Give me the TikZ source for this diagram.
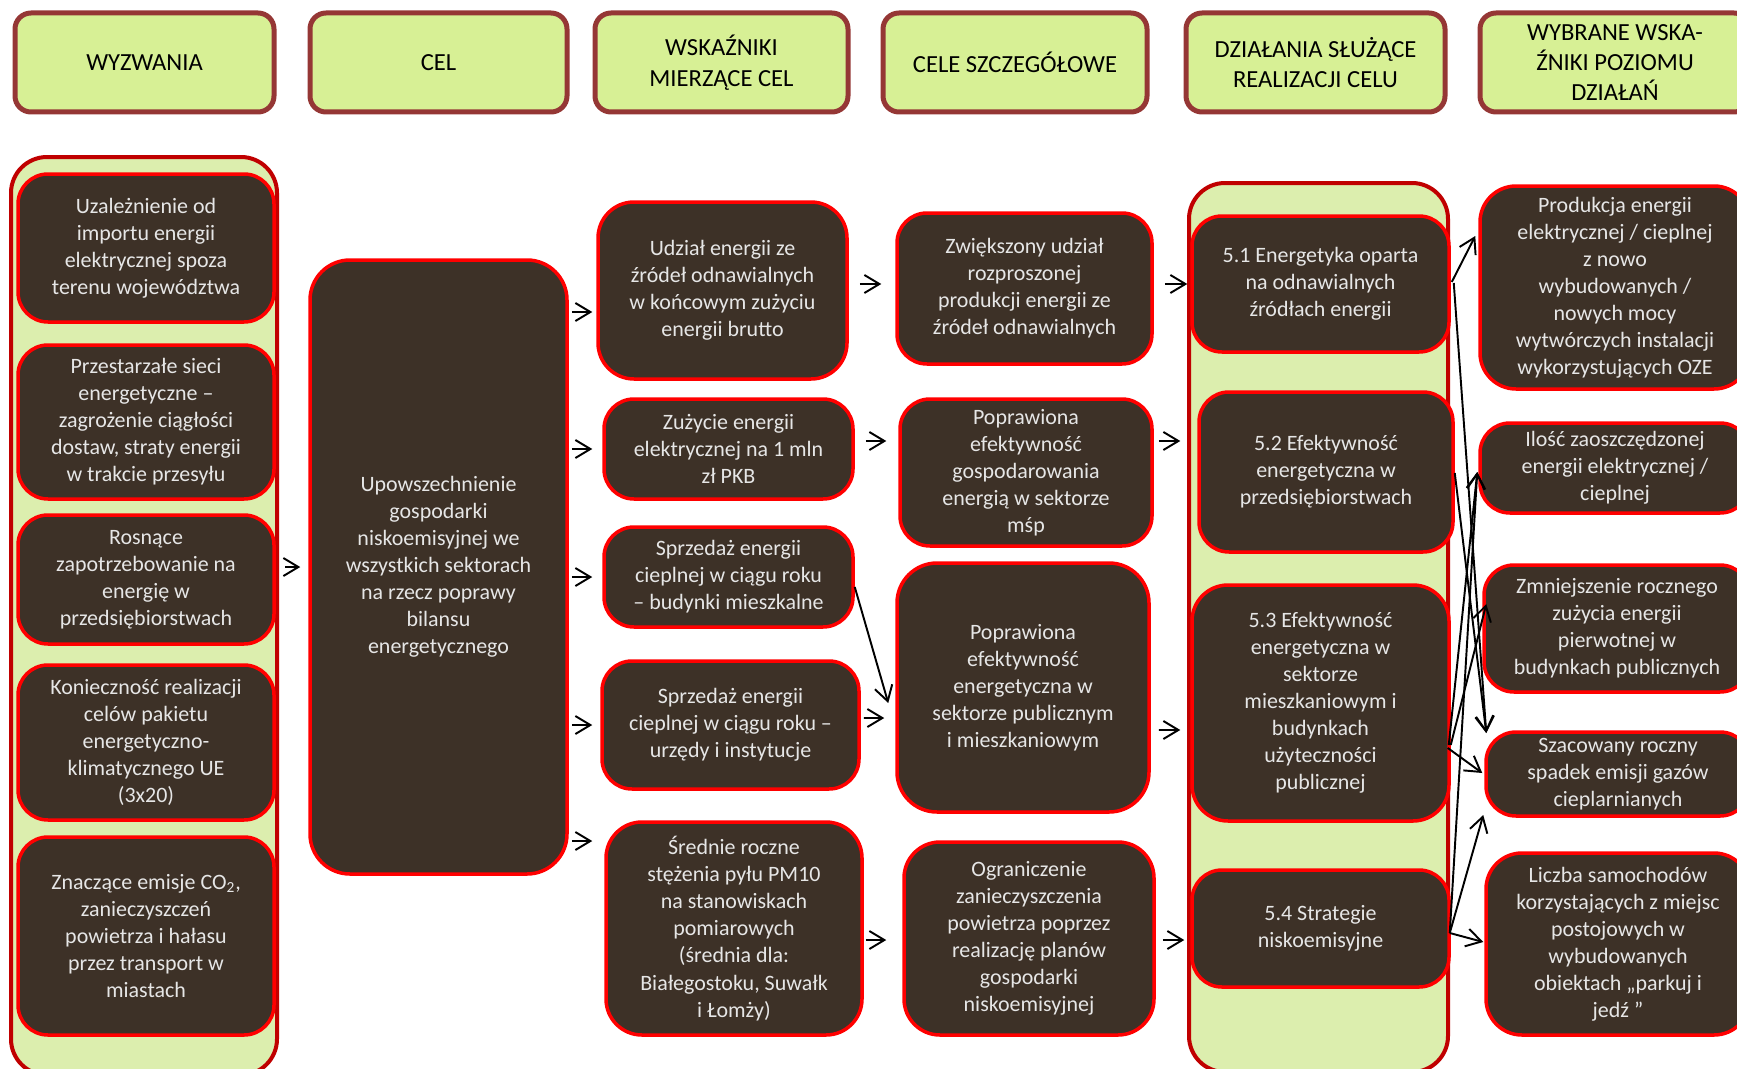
\documentclass[tikz,border=0pt]{standalone}
\usepackage{fontspec}
\setmainfont{Carlito}
\usetikzlibrary{arrows.meta,calc}

\definecolor{boxfill}{HTML}{3D3127}
\definecolor{boxtext}{HTML}{E6E6E6}
\definecolor{headfill}{HTML}{D7F095}
\definecolor{headline}{HTML}{953735}
\definecolor{bandfill}{HTML}{DCEEAE}
\definecolor{bandline}{HTML}{C00000}

\newcommand{\px}{0.02cm}

\tikzset{
  sz/.style 2 args={minimum width=#1*\px, minimum height=#2*\px},
  head/.style={draw=headline, line width=5*\px, fill=headfill, rounded corners=16*\px,
    align=center, inner sep=0pt, font=\fontsize{14}{17.3}\selectfont},
  band/.style={draw=bandline, line width=4*\px, fill=bandfill, rounded corners=36*\px, inner sep=0pt},
  item/.style={draw=red, line width=3.5*\px, fill=boxfill, text=boxtext, rounded corners=30*\px,
    align=center, inner sep=0pt, font=\fontsize{12.5}{15.4}\selectfont},
  arr/.style={line width=1.1pt, -{Straight Barb[length=0.3cm,width=0.36cm]}},
}

\begin{document}
\begin{tikzpicture}[x=\px, y=-\px]
  \useasboundingbox (0,0) rectangle (1737,1068);

  % background bands
  \node[band, sz={266}{918}] (wbg) at (144,616) {};
  \node[band, sz={259}{889}] (dbg) at (1318.5,627.5) {};

  % column heads
  \node[head, sz={259}{99}] (h1) at (144.5,62.5) {WYZWANIA};
  \node[head, sz={257}{99}] (h2) at (438.5,62.5) {CEL};
  \node[head, sz={253}{99}] (h3) at (721.5,62.5) {WSKAŹNIKI\\MIERZĄCE CEL};
  \node[head, sz={264}{99}] (h4) at (1015,62.5) {CELE SZCZEGÓŁOWE};
  \node[head, sz={259}{99}] (h5) at (1315.5,62.5) {DZIAŁANIA SŁUŻĄCE\\REALIZACJI CELU};
  \node[head, sz={270}{99}] (h6) at (1615,62.5) {WYBRANE WSKA-\\ŹNIKI POZIOMU\\DZIAŁAŃ};

  % challenges
  \node[item, sz={256}{148}] (y1) at (146,248) {Uzależnienie od\\importu energii\\elektrycznej spoza\\terenu województwa};
  \node[item, sz={256}{154}] (y2) at (146,422) {Przestarzałe sieci\\energetyczne –\\zagrożenie ciągłości\\dostaw, straty energii\\w trakcie przesyłu};
  \node[item, sz={256}{129}] (y3) at (146,579.5) {Rosnące\\zapotrzebowanie na\\energię w\\przedsiębiorstwach};
  \node[item, sz={256}{155}] (y4) at (146,742.5) {Konieczność realizacji\\celów pakietu\\energetyczno-\\klimatycznego UE\\(3x20)};
  \node[item, sz={256}{198}] (y5) at (146,936) {Znaczące emisje CO\textsubscript{2},\\zanieczyszczeń\\powietrza i hałasu\\przez transport w\\miastach};

  % goal
  \node[item, sz={257}{614}, rounded corners=40*\px] (cel) at (438.5,567) {Upowszechnienie\\gospodarki\\niskoemisyjnej we\\wszystkich sektorach\\na rzecz poprawy\\bilansu\\energetycznego};

  % goal indicators
  \node[item, sz={249}{177}, rounded corners=36*\px] (w1) at (722.5,290.5) {Udział energii ze\\źródeł odnawialnych\\w końcowym zużyciu\\energii brutto};
  \node[item, sz={249}{100}] (w2) at (728.5,449) {Zużycie energii\\elektrycznej na 1 mln\\zł PKB};
  \node[item, sz={249}{100}] (w3) at (728.5,577) {Sprzedaż energii\\cieplnej w ciągu roku\\– budynki mieszkalne};
  \node[item, sz={257}{128}] (w4) at (730.5,725) {Sprzedaż energii\\cieplnej w ciągu roku –\\urzędy i instytucje};
  \node[item, sz={256}{213}, rounded corners=36*\px] (w5) at (734,928.5) {Średnie roczne\\stężenia pyłu PM10\\na stanowiskach\\pomiarowych\\(średnia dla:\\Białegostoku, Suwałk\\i Łomży)};

  % specific goals
  \node[item, sz={255}{151}] (c1) at (1024.5,288.5) {Zwiększony udział\\rozproszonej\\produkcji energii ze\\źródeł odnawialnych};
  \node[item, sz={252}{147}] (c2) at (1026,472.5) {Poprawiona\\efektywność\\gospodarowania\\energią w sektorze\\mśp};
  \node[item, sz={252}{249}, rounded corners=40*\px] (c3) at (1023,687.5) {Poprawiona\\efektywność\\energetyczna w\\sektorze publicznym\\i mieszkaniowym};
  \node[item, sz={250}{193}, rounded corners=36*\px] (c4) at (1029,938.5) {Ograniczenie\\zanieczyszczenia\\powietrza poprzez\\realizację planów\\gospodarki\\niskoemisyjnej};

  % actions
  \node[item, sz={257}{136}] (d1) at (1320.5,284) {5.1 Energetyka oparta\\na odnawialnych\\źródłach energii};
  \node[item, sz={254}{160}] (d2) at (1326,472) {5.2 Efektywność\\energetyczna w\\przedsiębiorstwach};
  \node[item, sz={257}{236}, rounded corners=36*\px] (d3) at (1320.5,703) {5.3 Efektywność\\energetyczna w\\sektorze\\mieszkaniowym i\\budynkach\\użyteczności\\publicznej};
  \node[item, sz={257}{117}] (d4) at (1320.5,928.5) {5.4 Strategie\\niskoemisyjne};

  % action indicators
  \node[item, sz={270}{203}, rounded corners=36*\px] (b1) at (1615,287.5) {Produkcja energii\\elektrycznej / cieplnej\\z nowo\\wybudowanych /\\nowych mocy\\wytwórczych instalacji\\wykorzystujących OZE};
  \node[item, sz={270}{90}] (b2) at (1615,468) {Ilość zaoszczędzonej\\energii elektrycznej /\\cieplnej};
  \node[item, sz={266}{127}] (b3) at (1617,628.5) {Zmniejszenie rocznego\\zużycia energii\\pierwotnej w\\budynkach publicznych};
  \node[item, sz={264}{84}] (b4) at (1618,774) {Szacowany roczny\\spadek emisji gazów\\cieplarnianych};
  \node[item, sz={264}{182}, rounded corners=36*\px] (b5) at (1618,944) {Liczba samochodów\\korzystających z miejsc\\postojowych w\\wybudowanych\\obiektach „parkuj i\\jedź ”};

  % challenges -> goal
  \draw[arr, shorten <=6*\px, shorten >=8*\px] (wbg.east |- cel.west) -- (cel.west);

  % goal -> indicators
  \coordinate (t1) at ($(w1.west)+(0,21.5)$);
  \coordinate (t5) at ($(w5.west)+(0,-87.5)$);
  \draw[arr, shorten <=3*\px, shorten >=4*\px] (cel.east |- t1) -- (t1);
  \draw[arr, shorten <=3*\px, shorten >=10*\px] (cel.east |- w2.west) -- (w2.west);
  \draw[arr, shorten <=3*\px, shorten >=10*\px] (cel.east |- w3.west) -- (w3.west);
  \draw[arr, shorten <=3*\px, shorten >=8*\px] (cel.east |- w4.west) -- (w4.west);
  \draw[arr, shorten <=3*\px, shorten >=12*\px] (cel.east |- t5) -- (t5);

  % indicators -> specific goals
  \draw[arr] ($(w1.east)+(11,-6.5)$) -- ($(c1.west)+(-14,-4.5)$);
  \draw[arr] ($(w2.east)+(11,-8)$) -- ($(c2.west)+(-12,-31.5)$);
  \draw[arr] ($(w3.east)+(0,10)$) -- ($(c3.west)+(-7,15.5)$);
  \draw[arr] ($(w4.east)+(3,-7)$) -- ($(c3.west)+(-11,30.5)$);
  \draw[arr] ($(w5.east)+(2,11.5)$) -- ($(c4.west)+(-16,1.5)$);

  % specific goals -> actions
  \draw[arr] ($(c1.east)+(11,-4.5)$) -- ($(d1.west)+(-3,0)$);
  \draw[arr] ($(c2.east)+(5,-31.5)$) -- ($(d2.west)+(-17,-31)$);
  \draw[arr] ($(c3.east)+(8,42.5)$) -- ($(d3.west)+(-10,27)$);
  \draw[arr] ($(c4.east)+(7,1.5)$) -- ($(d4.west)+(-6,11.5)$);

  % actions -> action indicators
  \draw[arr] ($(d1.east)+(1,-2)$) -- ($(b1.west)+(-3,-51.5)$);
  \draw[arr] ($(d1.east)+(3,-1)$) -- ($(b4.west)+(2,-41)$);
  \draw[arr] ($(d2.east)+(0,1)$) -- ($(b4.west)+(2,-41)$);
  \draw[arr] ($(d3.east)+(-2,42)$) -- ($(b2.west)+(-1,4)$);
  \draw[arr] ($(d3.east)+(0,42)$) -- ($(b3.west)+(4,-24.5)$);
  \draw[arr] ($(d3.east)+(-3,45)$) -- ($(b4.west)+(-2,-1)$);
  \draw[arr] ($(d4.east)+(-1,4.5)$) -- ($(b2.west)+(-1,4)$);
  \draw[arr] ($(d4.east)+(-1,4.5)$) -- ($(b4.west)+(-1,41)$);
  \draw[arr] ($(d4.east)+(-1,4.5)$) -- ($(b5.west)+(-1,-2)$);
\end{tikzpicture}
\end{document}
